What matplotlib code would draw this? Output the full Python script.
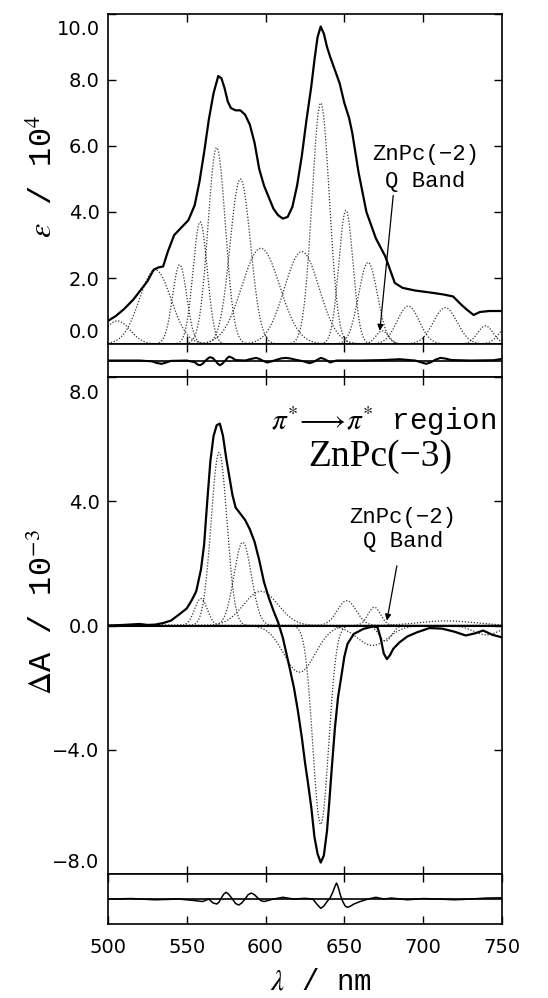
import numpy as np
import matplotlib
matplotlib.use("Agg")
import matplotlib.pyplot as plt
from matplotlib.transforms import ScaledTranslation

plt.rcParams['mathtext.fontset'] = 'stix'

x_ticks = [500, 550, 600, 650, 700, 750]

# top: ZnPc(-2) spectrum, eps / 10^4
top_wl = [500, 505, 510, 516, 521, 525, 529, 532, 535, 538, 542, 547, 551, 555, 558,
          561, 564, 567, 570, 572, 574, 576, 578, 581, 584, 587, 590, 593, 596, 599,
          602, 605, 608, 611, 614, 617, 620, 623, 626, 629, 631, 633, 635, 637, 639,
          641, 644, 647, 650, 653, 655, 659, 664, 670, 676, 682, 687, 695, 706, 713,
          719, 724, 728, 732, 736, 742, 750]
top_eps = [0.70, 0.85, 1.05, 1.34, 1.65, 1.90, 2.25, 2.32, 2.35, 2.80, 3.30, 3.55, 3.75, 4.20, 4.90,
           5.80, 6.80, 7.60, 8.12, 8.05, 7.75, 7.35, 7.15, 7.08, 7.08, 6.95, 6.65, 6.10, 5.30, 4.80,
           4.45, 4.10, 3.90, 3.80, 3.85, 4.15, 4.80, 5.70, 6.80, 7.80, 8.60, 9.30, 9.62, 9.40, 9.00,
           8.70, 8.30, 7.90, 7.30, 6.85, 6.40, 5.20, 4.00, 3.20, 2.65, 1.85, 1.70, 1.62, 1.55, 1.50,
           1.44, 1.20, 1.03, 0.88, 0.97, 1.00, 1.00]

# gaussian bands of the top fit
top_centers = [506, 530, 545.5, 558.5, 569, 584, 597, 623, 635, 651, 665, 674, 690.5, 714, 739.5, 755]
top_heights = [0.70, 2.25, 2.40, 3.70, 5.95, 5.00, 2.90, 2.80, 7.30, 4.05, 2.47, 0.40, 1.15, 1.10, 0.55, 0.60]
top_widths = [8, 10, 4.5, 4.5, 5.5, 6.5, 12, 11, 5.5, 4.5, 6, 4, 7, 7.5, 5, 6]

top_res_wl = [500, 520, 528, 531, 534, 537, 540, 550, 555, 557, 558.5, 560, 562, 564, 565,
              566.5, 568, 570, 571, 572.5, 574.5, 576, 577, 578.5, 581, 587, 591, 594, 596,
              598, 601, 604, 607, 610, 613, 616, 619, 624, 628, 630, 632, 635, 637, 639,
              641, 645, 660, 675, 685, 695, 699, 702, 705, 708, 711, 714, 718, 730, 745, 750]
top_res = [0.0, 0.0, -0.05, -0.15, -0.2, -0.12, -0.02, 0.0, -0.1, -0.25, -0.28, -0.2, 0.0, 0.17, 0.2,
           0.15, 0.0, -0.22, -0.28, -0.2, 0.0, 0.18, 0.24, 0.18, 0.03, 0.0, 0.1, 0.16, 0.1,
           0.0, -0.12, -0.05, 0.05, 0.13, 0.16, 0.12, 0.05, -0.05, -0.16, -0.1, 0.0, 0.16, 0.1, 0.0,
           -0.12, 0.0, 0.0, 0.03, 0.08, 0.0, -0.12, -0.2, -0.1, 0.06, 0.16, 0.12, 0.03, 0.0, 0.02, 0.1]

# bottom: ZnPc(-3) difference spectrum, dA / 10^-3
bot_wl = [500, 510, 520, 525, 530, 535, 540, 545, 550, 553, 556, 559, 561, 563, 565,
          567, 569, 571, 573, 575, 577, 579, 581, 584, 587, 590, 593, 596, 599, 602,
          605, 608, 611, 615, 618, 620.5, 623, 625, 627, 629, 631, 633, 635, 637, 639,
          640.5, 642, 644, 646, 648, 650, 652, 656, 662, 668, 671, 673, 675, 677, 679,
          681, 685, 690, 696, 704, 712, 720, 727, 733, 738, 744, 750]
bot_dA = [0.0, 0.02, 0.05, 0.02, 0.03, 0.08, 0.16, 0.35, 0.55, 0.80, 1.10, 1.80, 2.60, 4.00, 5.30,
          6.10, 6.45, 6.50, 6.10, 5.40, 4.80, 4.20, 3.80, 3.60, 3.40, 3.10, 2.70, 2.10, 1.40, 0.90,
          0.48, 0.10, -0.40, -1.30, -2.00, -2.74, -3.60, -4.40, -5.10, -5.85, -6.80, -7.35, -7.63, -7.40, -6.60,
          -5.64, -4.60, -3.30, -2.30, -1.66, -1.00, -0.59, -0.27, -0.11, -0.03, -0.05, -0.40, -0.90, -1.08, -0.95,
          -0.75, -0.54, -0.35, -0.22, -0.08, -0.10, -0.20, -0.32, -0.25, -0.16, -0.30, -0.38]

bot_centers = [559, 570.5, 585.5, 597, 621.5, 635, 651.5, 669, 676, 668, 715, 740]
bot_heights = [0.87, 5.57, 2.68, 1.10, -1.50, -6.40, 0.80, 0.59, -0.50, -0.64, 0.15, -0.30]
bot_widths = [4, 5, 5.5, 11, 10, 5, 6, 4, 4, 10, 18, 8]

bot_res_wl = [500, 515, 530, 545, 555, 560, 564, 566.5, 569, 570.5, 572, 573.5, 575, 576.5, 579,
              581, 583, 585, 587, 589, 591, 593, 595, 597, 599, 602, 605, 611, 618, 625,
              630, 632.5, 635, 637, 639, 641, 642.5, 644, 645, 646, 647.5, 649, 650.5, 652, 654,
              656, 660, 665, 670, 675, 680, 690, 700, 710, 720, 730, 740, 750]
bot_res = [0.0, 0.02, -0.03, 0.0, -0.06, -0.1, 0.0, -0.15, -0.2, -0.12, 0.05, 0.2, 0.27, 0.2, 0.0,
           -0.18, -0.24, -0.15, 0.0, 0.18, 0.24, 0.17, 0.05, -0.06, -0.1, -0.05, 0.0, 0.07, 0.0, 0.03,
           0.0, -0.2, -0.37, -0.28, -0.1, 0.05, 0.25, 0.5, 0.64, 0.5, 0.15, -0.1, -0.28, -0.33, -0.28,
           -0.2, -0.1, 0.0, 0.07, 0.0, 0.04, -0.03, 0.02, 0.0, -0.03, 0.0, 0.04, 0.05]

grid = np.linspace(500, 750, 1001)
dot = dict(color='0.2', lw=0.9, ls=(0, (1, 1.4)))
tick_font = dict(family='DejaVu Sans', size=14)
label_font = dict(family='Liberation Mono', fontsize=23)

fig = plt.figure(figsize=(5.48, 9.98), dpi=100)
L, W = 0.197, 0.719
ax1 = fig.add_axes([L, 0.6553, W, 0.3307])
r1 = fig.add_axes([L, 0.6222, W, 0.0331])
ax2 = fig.add_axes([L, 0.1242, W, 0.4980])
r2 = fig.add_axes([L, 0.0741, W, 0.0501])

for c, h, w in zip(top_centers, top_heights, top_widths):
    ax1.plot(grid, h * np.exp(-0.5 * ((grid - c) / w) ** 2), **dot)
ax1.plot(top_wl, top_eps, color='k', lw=1.6)
ax1.set_ylim(0, 10)
ax1.set_yticks([0, 2, 4, 6, 8, 10])
ax1.set_yticklabels(['0.0', '2.0', '4.0', '6.0', '8.0', '10.0'], fontdict=tick_font)
ax1.set_ylabel(r'$\epsilon$ / 10$^4$', **label_font)
ax1.yaxis.set_label_coords(-0.125, 0.508)

r1.axhline(0, color='k', lw=1.2)
r1.plot(top_res_wl, top_res, color='k', lw=1.5)
r1.set_ylim(-1, 1)

for c, h, w in zip(bot_centers, bot_heights, bot_widths):
    ax2.plot(grid, h * np.exp(-0.5 * ((grid - c) / w) ** 2), **dot)
ax2.axhline(0, color='k', lw=1.5)
ax2.plot(bot_wl, bot_dA, color='k', lw=1.6)
ax2.set_ylim(-8, 8)
ax2.set_yticks([-8, -4, 0, 4, 8])
ax2.set_yticklabels(['\u22128.0', '\u22124.0', '0.0', '4.0', '8.0'], fontdict=tick_font)
ax2.set_ylabel(r'$\Delta$A / 10$^{-3}$', **label_font)
ax2.yaxis.set_label_coords(-0.125, 0.527)

r2.axhline(0, color='k', lw=1.2)
r2.plot(bot_res_wl, bot_res, color='k', lw=1.1)
r2.set_ylim(-1, 1)

for ax in (ax1, r1, ax2, r2):
    ax.set_xlim(500, 750)
    ax.set_xticks(x_ticks[1:-1])
    ax.tick_params(direction='in', length=6, width=1, top=True, right=True,
                   labelbottom=False, pad=6)
    for s in ax.spines.values():
        s.set_linewidth(1.2)
for ax in (r1, r2):
    ax.set_yticks([])

r2.set_xticks(x_ticks)
r2.set_xticklabels([str(v) for v in x_ticks], fontdict=tick_font)
r2.tick_params(labelbottom=True, pad=10)
r2.set_xlabel(r'$\lambda$ / nm', family='Liberation Mono', fontsize=21)
r2.xaxis.set_label_coords(0.54, -0.86)

# end labels sit inside the axis range
for ax in (ax1, ax2):
    labs = ax.get_yticklabels()
    labs[0].set_transform(labs[0].get_transform() + ScaledTranslation(0, 0.14, fig.dpi_scale_trans))
    labs[-1].set_transform(labs[-1].get_transform() + ScaledTranslation(0, -0.14, fig.dpi_scale_trans))

mono = dict(family='Liberation Mono', ha='center', va='center')
ax1.text(701.5, 5.73, 'ZnPc(\u22122)', fontsize=16, **mono)
ax1.text(701.5, 4.91, 'Q Band', fontsize=16, **mono)
ax1.annotate('', xy=(672.5, 0.4), xytext=(681, 4.5),
             arrowprops=dict(arrowstyle='-|>', color='k', lw=0.9, mutation_scale=9,
                             shrinkA=0, shrinkB=0))

ax2.text(675, 6.57, r'$\pi^{*}\!\longrightarrow\!\pi^{*}$ region', fontsize=21, **mono)
ax2.text(673, 5.43, 'ZnPc(\u22123)', family='Liberation Serif', fontsize=27,
         ha='center', va='center')
ax2.text(687, 3.49, 'ZnPc(\u22122)', fontsize=16, **mono)
ax2.text(687, 2.72, 'Q Band', fontsize=16, **mono)
ax2.annotate('', xy=(677, 0.16), xytext=(683.3, 1.92),
             arrowprops=dict(arrowstyle='-|>', color='k', lw=0.9, mutation_scale=9,
                             shrinkA=0, shrinkB=0))

fig.savefig('out.png', dpi=100)
